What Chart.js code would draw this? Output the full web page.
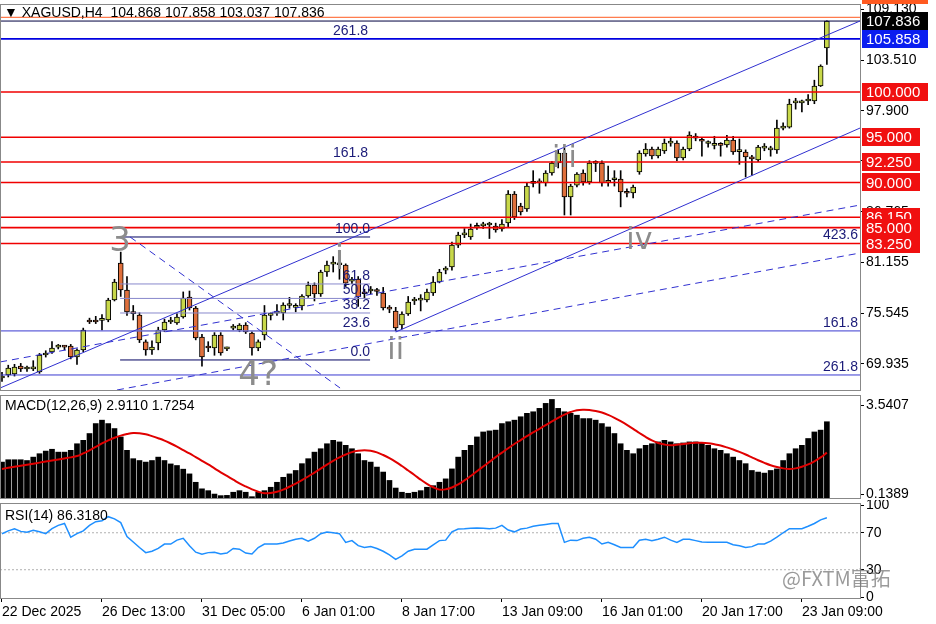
<!DOCTYPE html>
<html>
<head>
<meta charset="utf-8">
<script src="https://cdn.jsdelivr.net/npm/chart.js@4.4.1/dist/chart.umd.min.js"></script>
<style>
  html, body { margin: 0; padding: 0; background: #fff; }
  #wrap { position: relative; width: 936px; height: 624px; overflow: hidden; }
  .pane { position: absolute; left: 0; width: 936px; }
</style>
</head>
<body>
<div id="wrap">
  <div class="pane" style="top:0;height:392px"><canvas id="priceChart"></canvas></div>
  <div class="pane" style="top:392px;height:108px"><canvas id="macdChart"></canvas></div>
  <div class="pane" style="top:500px;height:124px"><canvas id="rsiChart"></canvas></div>
</div>
<script>
"use strict";

const FONT = "'Liberation Sans', Arial, sans-serif";

// XAGUSD H4 candles, 22 Dec 2025 .. 23 Jan 2026
const opens = [68.39,68.72,68.83,69.71,69.38,69.40,69.05,70.93,71.26,71.80,
  71.85,71.92,70.71,71.48,74.80,74.69,74.75,74.80,77.01,81.10,
  78.11,75.60,75.35,72.37,71.48,72.26,73.69,74.58,74.47,75.13,
  77.34,76.12,72.92,71.80,71.70,73.14,71.60,73.90,73.69,74.24,
  73.36,71.70,73.14,75.30,75.55,75.57,76.40,76.20,76.34,77.45,
  78.66,77.67,80.10,80.98,80.90,80.87,79.10,79.33,77.80,78.00,
  78.00,77.78,76.05,75.79,74.24,75.46,76.90,77.00,77.01,77.78,
  79.00,80.30,80.65,83.08,84.20,83.97,85.05,85.20,85.30,85.18,
  84.85,85.52,88.72,87.40,87.06,89.90,90.00,89.94,91.04,92.15,
  93.25,88.39,89.71,91.04,90.05,92.10,92.15,90.00,90.30,90.38,
  88.85,88.83,91.15,93.14,93.69,92.92,93.47,94.35,94.36,92.70,
  93.69,94.95,94.60,94.30,94.10,94.15,94.14,94.69,93.40,93.36,
  92.70,92.48,93.80,93.60,93.58,96.00,96.12,98.80,98.80,99.00,
  99.00,100.66,104.868];
const highs = [69.0,69.8,69.9,70.0,69.7,70.3,71.1,71.4,72.4,72.1,
  72.0,72.1,71.6,73.9,75.0,75.2,75.4,77.2,79.3,82.3,
  79.6,76.4,75.6,72.6,72.5,74.0,74.9,75.1,75.5,77.9,
  78.0,76.3,73.2,72.4,73.4,73.4,71.8,74.3,74.4,74.5,
  73.5,72.6,76.4,75.6,76.5,76.7,77.3,76.6,77.6,79.0,
  78.9,80.3,81.3,81.8,82.5,81.0,79.5,79.6,78.2,78.5,
  78.3,78.4,76.4,76.2,75.7,77.4,77.3,77.6,78.2,79.6,
  80.4,80.7,83.4,84.5,84.9,85.4,85.5,85.6,85.6,85.5,
  85.9,89.1,89.0,87.7,89.9,91.3,90.4,91.3,92.3,93.6,
  93.8,89.8,91.1,91.4,92.4,92.4,92.4,91.8,91.3,91.3,
  89.3,89.7,93.5,94.3,93.9,93.9,94.8,95.0,94.6,93.9,
  95.6,95.4,94.9,94.6,95.1,94.4,95.2,95.1,94.8,93.6,
  93.0,94.1,94.3,94.0,96.9,96.6,99.2,99.3,99.1,99.7,
  101.3,103.0,107.858];
const lows = [68.0,68.5,68.6,69.1,69.1,69.2,68.9,70.7,71.1,71.6,
  71.5,70.5,69.9,71.3,74.4,74.4,73.7,74.6,76.9,77.4,
  75.3,74.8,72.3,70.9,71.0,71.5,73.5,74.4,74.3,75.0,
  75.9,72.6,69.7,71.3,70.9,70.9,71.4,73.7,73.5,73.3,
  70.9,71.4,72.6,74.8,75.3,74.8,76.1,75.7,75.9,77.3,
  76.9,77.4,79.6,80.1,79.3,78.5,78.8,76.3,77.2,77.7,
  77.5,75.9,75.6,73.6,73.8,75.3,76.5,75.8,76.8,77.5,
  78.9,79.9,80.3,82.8,83.9,83.7,84.8,84.9,83.8,84.5,
  84.6,85.0,85.9,86.4,86.8,89.5,88.8,89.6,90.8,91.6,
  86.4,86.4,89.5,89.7,89.8,91.2,89.6,89.6,89.6,87.3,
  88.4,88.3,90.9,92.9,92.6,92.7,93.2,94.0,92.4,92.5,
  93.5,94.6,92.9,93.9,93.7,92.9,93.9,93.1,92.0,90.6,
  90.8,92.3,93.5,92.9,93.2,95.8,96.0,98.1,97.8,98.6,
  98.7,100.6,103.037];
const closes = [68.61,69.49,69.60,69.38,69.40,69.45,70.93,71.15,71.70,71.85,
  71.80,70.71,71.48,73.69,74.58,74.58,74.80,77.01,79.00,78.11,
  75.68,75.50,72.59,71.48,71.81,73.69,74.58,74.80,75.13,77.23,
  76.12,72.81,70.71,71.70,73.14,71.15,71.70,74.00,74.24,73.47,
  71.70,72.37,75.35,75.40,75.60,76.45,76.50,76.25,77.45,78.66,
  77.67,80.10,80.87,81.10,80.90,78.88,79.15,77.34,77.70,78.00,
  77.95,76.12,76.00,73.91,75.46,76.79,76.90,77.05,77.89,79.00,
  80.10,80.35,83.08,84.19,84.25,84.85,85.10,85.20,85.40,84.74,
  85.40,88.72,86.18,86.73,89.60,89.95,89.95,91.04,92.15,93.25,
  88.39,89.60,90.93,90.05,92.15,92.20,89.94,90.05,90.40,88.94,
  88.80,89.49,93.25,93.69,92.92,93.69,94.36,94.40,92.70,93.69,
  95.24,94.90,94.55,94.35,94.15,94.10,94.69,93.36,93.40,92.81,
  92.60,93.91,93.85,93.65,96.01,96.10,98.66,98.80,98.90,99.10,
  100.66,102.86,107.836];

const macdMain = [1.37,1.46,1.46,1.46,1.43,1.56,1.69,1.79,1.86,1.75,
  1.75,1.82,2.07,2.20,2.46,2.84,2.97,2.84,2.65,2.33,
  1.82,1.50,1.43,1.37,1.43,1.56,1.43,1.30,1.24,1.10,0.92,0.60,
  0.35,0.28,0.15,0.09,0.10,0.22,0.28,0.22,0.05,0.22,0.28,0.41,
  0.60,0.79,0.92,1.05,1.31,1.50,1.75,1.88,2.07,2.20,
  2.14,2.01,1.88,1.69,1.43,1.37,1.18,0.99,0.67,0.38,
  0.22,0.18,0.22,0.28,0.41,0.47,0.60,0.73,1.11,1.56,
  1.82,2.01,2.33,2.52,2.56,2.59,2.84,2.91,2.97,3.10,
  3.23,3.29,3.42,3.61,3.76,3.42,3.29,3.23,3.16,3.03,
  3.03,2.97,2.84,2.71,2.46,2.07,1.82,1.69,1.88,2.01,
  2.07,2.14,2.20,2.14,2.07,2.10,2.14,2.14,2.10,2.01,
  1.88,1.82,1.69,1.56,1.43,1.31,1.05,0.99,0.95,1.05,
  1.11,1.43,1.69,1.88,2.01,2.27,2.52,2.59,2.91];
const macdSignal = [1.11,1.15,1.19,1.23,1.27,1.31,1.35,1.39,1.43,1.47,1.51,1.55,1.60,
  1.70,1.82,1.95,2.08,2.20,2.30,2.38,2.44,2.48,
  2.47,2.43,2.36,2.28,2.19,2.08,1.96,1.83,1.70,1.56,1.42,1.28,1.13,0.98,0.84,0.70,0.56,0.44,0.33,0.24,0.18,
  0.19,0.24,0.32,0.43,0.55,0.68,0.82,0.97,1.12,1.27,1.42,1.55,1.66,1.75,1.80,1.82,
  1.80,1.74,1.64,1.52,1.38,1.22,1.05,0.88,0.70,0.54,0.41,0.32,
  0.33,0.40,0.52,0.67,0.84,1.02,1.20,1.38,1.56,1.73,1.90,2.06,2.21,2.36,2.50,2.64,2.78,2.92,3.06,3.18,3.28,3.35,
  3.37,3.36,3.32,3.26,3.17,3.06,2.93,2.79,2.64,2.48,2.33,2.20,2.10,2.04,2.01,
  2.03,2.06,2.09,2.11,2.11,
  2.09,2.05,2.00,1.93,1.85,1.76,1.66,1.55,1.44,1.34,1.25,1.18,1.13,1.11,
  1.13,1.19,1.28,1.40,1.55,1.73];
const rsiValues = [68.9,72,74.4,71.5,70.5,72.6,71,69,74.4,78,
  80,65.2,69,72,78,82,83,87.4,85,81,
  66,60,54,48.5,50,53,57.8,57.8,62,64,
  56,49,46.7,48.5,49,47,48,53,52.2,48,
  47,54,57.8,57.8,57.8,59,61,63,64,61,
  64,69,70.7,70,69,59.6,61.5,56,54,55,
  53,50,46,41.1,45,50,52.2,52.2,52.2,57,
  61.5,62,71,74,74.4,75,75.2,75,74.4,75,
  78,73,71,74,75,77,78,79,80,80,
  59.6,62,61.5,64,65.2,63,57.8,59.6,57,54.1,
  54,54.1,62,63,61.5,63,65.2,62,59.6,63,
  63,61.5,60,59.6,59.6,59.6,59.6,57,56,54.1,
  55,57.8,57.8,61,65.2,70,74.4,74.4,74.4,77,
  80,84,86.3];

const dateTickIdx = [0, 16, 32, 48, 64, 80, 96, 112, 128];
const dateLabels = ["22 Dec 2025", "26 Dec 13:00", "31 Dec 05:00", "6 Jan 01:00", "8 Jan 17:00",
  "13 Jan 09:00", "16 Jan 01:00", "20 Jan 17:00", "23 Jan 09:00"];
const priceTicks = [109.130, 103.510, 97.900, 92.375, 86.765, 81.155, 75.545, 69.935];
const macdTicks = [3.5407, 0.1389];
const rsiTicks = [100, 70, 30, 0];

// support / resistance levels with boxed labels on the price axis
const redLevels = [100.0, 95.0, 92.25, 90.0, 86.15, 85.0, 83.25];
const blueLevel = 105.858;
const lastPrice = 107.836;
const topLevel = 108.25;

// fibonacci retracement (short lines) and extensions (full width)
const fibRatios = ["100.0", "61.8", "50.0", "38.2", "23.6", "0.0"];
const fibPrices = [83.97, 78.78, 77.18, 75.57, 73.59, 70.38];
const extLabels = ["261.8", "161.8", "423.6", "161.8", "261.8"];
const extPrices = [105.858, 92.37, 83.25, 73.59, 68.72];
const extLabelIdx = [58.9, 58.9, 137.3, 137.3, 137.3];

// trend lines: [x0, y0, x1, y1, dashed]
const trendLines = [
  [-0.3, 67.28, 137.3, 107.84, false],
  [63.0, 73.47, 137.3, 96.01, false],
  [-0.3, 70.16, 137.3, 87.5, true],
  [18.4, 67.06, 137.3, 82.2, true],
  [20.5, 83.97, 54.1, 67.28, true]
];

// Elliott wave labels
const waveText = ["3", "i", "ii", "iii", "iv", "4?"];
const waveIdx = [18.9, 54.0, 63.0, 90.0, 102.0, 41.0];
const wavePrice = [83.4, 81.4, 71.3, 92.6, 83.5, 68.6];

const X_MIN = -0.32;
const X_MAX = 137.3;
const idx = closes.map((_, i) => i);

function yAxis(ticks, min, max, fmt) {
  return {
    position: "right",
    min, max,
    afterFit: (s) => { s.width = 76; s.paddingTop = 0; s.paddingBottom = 0; },
    afterBuildTicks: (s) => { s.ticks = ticks.map((v) => ({ value: v })); },
    border: { color: "#000" },
    grid: { drawOnChartArea: false, color: "#000", tickLength: 4 },
    ticks: { color: "#000", font: { family: FONT, size: 14 }, padding: 2, callback: fmt }
  };
}

function hiddenX() {
  return { type: "linear", min: X_MIN, max: X_MAX, offset: false, display: false };
}

const baseOptions = {
  responsive: true,
  maintainAspectRatio: false,
  animation: false,
  events: [],
  plugins: { legend: { display: false }, tooltip: { enabled: false } }
};

function line(ctx, x0, y0, x1, y1, color, width, dash) {
  ctx.save();
  ctx.strokeStyle = color;
  ctx.lineWidth = width;
  ctx.setLineDash(dash || []);
  ctx.beginPath();
  ctx.moveTo(x0, y0);
  ctx.lineTo(x1, y1);
  ctx.stroke();
  ctx.restore();
}

function box(ctx, y, text, bg, w) {
  ctx.fillStyle = bg;
  ctx.fillRect(862, Math.round(y) - 9, w, 18);
  ctx.fillStyle = "#fff";
  ctx.font = `15px ${FONT}`;
  ctx.textAlign = "left";
  ctx.textBaseline = "middle";
  ctx.fillText(text, 866, y + 1);
}

function paneFrame(ctx, area) {
  ctx.save();
  ctx.strokeStyle = "#888";
  ctx.lineWidth = 1;
  ctx.strokeRect(area.left + 0.5, area.top + 0.5, area.right - area.left, area.bottom - area.top);
  ctx.restore();
}

const priceOverlay = {
  id: "priceOverlay",
  afterDatasetsDraw(chart) {
    const { ctx, chartArea: a, scales: { x, y } } = chart;
    ctx.save();
    ctx.beginPath();
    ctx.rect(a.left, a.top, a.right - a.left, a.bottom - a.top);
    ctx.clip();

    redLevels.forEach((p) => line(ctx, a.left, y.getPixelForValue(p), a.right, y.getPixelForValue(p), "#f00000", 1.6));
    line(ctx, a.left, y.getPixelForValue(blueLevel), a.right, y.getPixelForValue(blueLevel), "#0000e0", 1.8);
    line(ctx, a.left, y.getPixelForValue(lastPrice), a.right, y.getPixelForValue(lastPrice), "#000040", 1);
    line(ctx, a.left, y.getPixelForValue(topLevel), a.right, y.getPixelForValue(topLevel), "#ff5a20", 1);

    extPrices.forEach((p, i) => {
      if (i >= 3) line(ctx, a.left, y.getPixelForValue(p), a.right, y.getPixelForValue(p), "#3a3ad0", 1);
    });
    fibPrices.forEach((p, i) => {
      const c = i === 0 || i === 5 ? "#000060" : "#8888cc";
      line(ctx, x.getPixelForValue(18.9), y.getPixelForValue(p), x.getPixelForValue(58.9), y.getPixelForValue(p), c, 1);
    });
    trendLines.forEach(([x0, y0, x1, y1, dashed]) => {
      line(ctx, x.getPixelForValue(x0), y.getPixelForValue(y0), x.getPixelForValue(x1), y.getPixelForValue(y1),
        "#3030d0", 1, dashed ? [7, 5] : null);
    });

    ctx.fillStyle = "#8c8c8c";
    ctx.textAlign = "center";
    ctx.textBaseline = "middle";
    waveText.forEach((t, i) => {
      ctx.font = `${t.length > 1 && t !== "4?" ? 30 : 34}px 'DejaVu Sans', sans-serif`;
      ctx.fillText(t, x.getPixelForValue(waveIdx[i]), y.getPixelForValue(wavePrice[i]));
    });

    ctx.fillStyle = "#1a1a78";
    ctx.font = `14px ${FONT}`;
    ctx.textAlign = "right";
    ctx.textBaseline = "bottom";
    fibRatios.forEach((t, i) => ctx.fillText(t, x.getPixelForValue(58.9), y.getPixelForValue(fibPrices[i]) - 1));
    extLabels.forEach((t, i) => ctx.fillText(t, x.getPixelForValue(extLabelIdx[i]) - 2, y.getPixelForValue(extPrices[i]) - 1));

    ctx.fillStyle = "#000";
    ctx.font = `14px ${FONT}`;
    ctx.textAlign = "left";
    ctx.textBaseline = "middle";
    ctx.fillText("\u25BC XAGUSD,H4  104.868 107.858 103.037 107.836", 4, 13);
    ctx.restore();

    paneFrame(ctx, a);
    ctx.save();
    ctx.fillStyle = "#ff5a20";
    ctx.fillRect(862, 0, 66, 4);
    redLevels.forEach((p) => box(ctx, y.getPixelForValue(p), p.toFixed(3), "#f01010", p >= 100 ? 66 : 58));
    box(ctx, y.getPixelForValue(blueLevel), blueLevel.toFixed(3), "#0a1ef0", 66);
    box(ctx, y.getPixelForValue(lastPrice), lastPrice.toFixed(3), "#000", 66);
    ctx.restore();
  }
};

new Chart(document.getElementById("priceChart"), {
  type: "bar",
  data: {
    datasets: [
      {
        data: idx.map((i) => ({ x: i, y: [lows[i], highs[i]] })),
        backgroundColor: "#000",
        barThickness: 1,
        grouped: false,
        order: 2
      },
      {
        data: idx.map((i) => ({ x: i, y: [opens[i], closes[i]] })),
        backgroundColor: idx.map((i) => (closes[i] >= opens[i] ? "#c8d84a" : "#e0703c")),
        borderColor: "#000",
        borderWidth: 1,
        borderSkipped: false,
        barThickness: 5,
        minBarLength: 2,
        grouped: false,
        order: 1
      }
    ]
  },
  options: {
    ...baseOptions,
    layout: { padding: { top: 4, bottom: 2, left: 0 } },
    scales: {
      x: hiddenX(),
      y: yAxis(priceTicks, 67.06, 109.72, (v) => Number(v).toFixed(3))
    }
  },
  plugins: [priceOverlay]
});

const macdOverlay = {
  id: "macdOverlay",
  afterDatasetsDraw(chart) {
    const { ctx, chartArea: a } = chart;
    paneFrame(ctx, a);
    ctx.save();
    ctx.fillStyle = "#000";
    ctx.font = `14px ${FONT}`;
    ctx.textBaseline = "middle";
    ctx.fillText("MACD(12,26,9) 2.9110 1.7254", 5, a.top + 11);
    ctx.restore();
  }
};

new Chart(document.getElementById("macdChart"), {
  type: "bar",
  data: {
    datasets: [
      {
        type: "line",
        data: idx.map((i) => ({ x: i, y: macdSignal[i] })),
        borderColor: "#e00000",
        borderWidth: 2,
        pointRadius: 0,
        tension: 0.4,
        order: 1
      },
      {
        data: idx.map((i) => ({ x: i, y: macdMain[i] })),
        backgroundColor: "#000",
        barThickness: 5,
        order: 2
      }
    ]
  },
  options: {
    ...baseOptions,
    layout: { padding: { top: 3, bottom: 2 } },
    scales: {
      x: hiddenX(),
      y: yAxis(macdTicks, 0, 3.93, (v) => Number(v).toFixed(4))
    }
  },
  plugins: [macdOverlay]
});

const rsiOverlay = {
  id: "rsiOverlay",
  beforeDatasetsDraw(chart) {
    const { ctx, chartArea: a, scales: { y } } = chart;
    [70, 30].forEach((v) => line(ctx, a.left, y.getPixelForValue(v), a.right, y.getPixelForValue(v), "#b0b0b0", 1, [2, 2]));
  },
  afterDatasetsDraw(chart) {
    const { ctx, chartArea: a } = chart;
    paneFrame(ctx, a);
    ctx.save();
    ctx.fillStyle = "#000";
    ctx.font = `14px ${FONT}`;
    ctx.textBaseline = "middle";
    ctx.fillText("RSI(14) 86.3180", 5, a.top + 13);
    ctx.fillStyle = "rgba(120,120,120,0.75)";
    ctx.font = `20px 'Noto Sans CJK SC', sans-serif`;
    ctx.fillText("@FXTM富拓", 782, a.bottom - 20);
    ctx.restore();
  }
};

new Chart(document.getElementById("rsiChart"), {
  type: "line",
  data: {
    datasets: [
      {
        data: idx.map((i) => ({ x: i, y: rsiValues[i] })),
        borderColor: "#1e8fff",
        borderWidth: 1.5,
        pointRadius: 0,
        tension: 0
      }
    ]
  },
  options: {
    ...baseOptions,
    layout: { padding: { top: 3 } },
    scales: {
      x: {
        type: "linear",
        min: X_MIN,
        max: X_MAX,
        offset: false,
        afterBuildTicks: (s) => { s.ticks = dateTickIdx.map((v) => ({ value: v })); },
        afterFit: (s) => { s.height = 26; s.paddingLeft = 0; s.paddingRight = 0; },
        border: { color: "#000" },
        grid: { drawOnChartArea: false, color: "#000", tickLength: 4 },
        ticks: {
          align: "start",
          maxRotation: 0,
          autoSkip: false,
          color: "#000",
          padding: 2,
          font: { family: FONT, size: 14 },
          callback: (v) => dateLabels[dateTickIdx.indexOf(v)] || ""
        }
      },
      y: yAxis(rsiTicks, -0.6, 102.2, (v) => String(v))
    }
  },
  plugins: [rsiOverlay]
});
</script>
</body>
</html>
